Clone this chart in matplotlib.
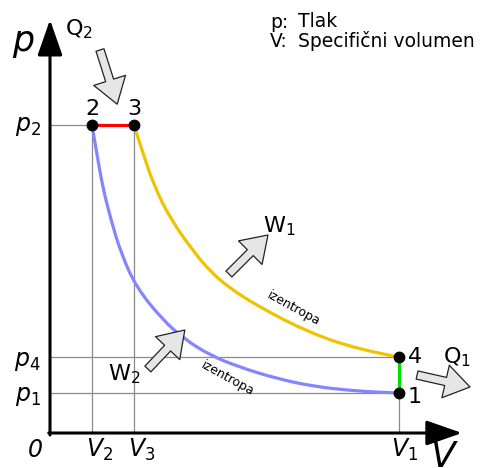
import matplotlib.pyplot as plt
from matplotlib.patches import FancyArrowPatch, ArrowStyle, PathPatch
from matplotlib.path import Path

# state points of the cycle (arbitrary units)
V2, V3, V1 = 1.0, 2.0, 8.3
p1, p4, p2 = 1.0, 1.9, 7.7

# isentropic compression 1-2 (blue)
comp_V = [1.0, 1.12, 1.255, 1.45, 1.69, 2.05, 2.68, 3.2, 3.8, 4.5, 5.4, 6.3, 7.2, 7.8, 8.3]
comp_p = [7.7, 6.95, 6.15, 5.33, 4.5, 3.65, 2.83, 2.35, 1.95, 1.65, 1.36, 1.16, 1.06, 1.02, 1.0]

# isentropic expansion 3-4 (yellow)
exp_V = [2.0, 2.21, 2.49, 2.88, 3.445, 3.81, 4.24, 4.98, 6.19, 7.38, 8.3]
exp_p = [7.7, 7.0, 6.15, 5.33, 4.5, 4.05, 3.65, 3.15, 2.5, 2.08, 1.9]

state_V = [V1, V2, V3, V1]
state_p = [p1, p2, p2, p4]

legend_keys = ['p:', 'V:']
legend_names = ['Tlak', 'Specifični volumen']


def smooth(xs, ys):
    # quadratic b-spline style path through the read points
    verts = [(xs[0], ys[0])]
    codes = [Path.MOVETO]
    n = len(xs)
    for i in range(1, n - 1):
        verts.append((xs[i], ys[i]))
        if i < n - 2:
            verts.append(((xs[i] + xs[i + 1]) / 2, (ys[i] + ys[i + 1]) / 2))
        else:
            verts.append((xs[-1], ys[-1]))
        codes += [Path.CURVE3, Path.CURVE3]
    return Path(verts, codes)


fig = plt.figure(figsize=(4.87, 4.68), dpi=100)
ax = fig.add_axes([0, 0, 1, 1])
ax.set_xlim(-50 / 42, 437 / 42)
ax.set_ylim(-35 / 40, 433 / 40)
ax.axis('off')

# thin helper lines
grey = '#8a8a8a'
ax.plot([0, V2], [p2, p2], color=grey, lw=0.9, zorder=1)
ax.plot([0, V1], [p4, p4], color=grey, lw=0.9, zorder=1)
ax.plot([0, V1], [p1, p1], color=grey, lw=0.9, zorder=1)
for v, top in [(V2, p2), (V3, p2), (V1, p4)]:
    ax.plot([v, v], [0, top], color=grey, lw=0.9, zorder=1)

# axes with arrow heads
ax.annotate('', xy=(0, 10.33), xytext=(0, -0.05),
            arrowprops=dict(arrowstyle='-|>,head_length=1.0,head_width=0.35',
                            mutation_scale=22, lw=2.2, color='black',
                            shrinkA=0, shrinkB=0), zorder=3)
ax.annotate('', xy=(9.81, 0), xytext=(-0.03, 0),
            arrowprops=dict(arrowstyle='-|>,head_length=1.0,head_width=0.35',
                            mutation_scale=22, lw=2.2, color='black',
                            shrinkA=0, shrinkB=0), zorder=3)

# cycle
ax.add_patch(PathPatch(smooth(comp_V, comp_p), fill=False, ec='#8585ff', lw=2.3, zorder=2))
ax.add_patch(PathPatch(smooth(exp_V, exp_p), fill=False, ec='#f0c300', lw=2.3, zorder=2))
ax.plot([V2, V3], [p2, p2], color='#ff0000', lw=2.3, zorder=2)
ax.plot([V1, V1], [p4, p1], color='#00e000', lw=2.3, zorder=2)
ax.plot(state_V, state_p, 'o', color='black', ms=7.5, zorder=5)

# state numbers
ax.text(V2, 7.95, '2', fontsize=16, ha='center', va='baseline')
ax.text(V3, 7.95, '3', fontsize=16, ha='center', va='baseline')
ax.text(8.52, 1.76, '4', fontsize=16, ha='left', va='baseline')
ax.text(8.52, 0.75, '1', fontsize=16, ha='left', va='baseline')

# axis labels
ax.text(-0.9, 9.55, 'p', fontsize=25, fontstyle='italic', ha='left', va='baseline')
ax.text(9.05, -0.85, 'V', fontsize=26, fontstyle='italic', ha='left', va='baseline')
ax.text(-0.36, -0.6, '0', fontsize=17, fontstyle='italic', ha='center', va='baseline')
ax.text(-0.22, 7.55, r'$p_{\mathit{2}}$', fontsize=17, ha='right', va='baseline')
ax.text(-0.22, 1.675, r'$p_{\mathit{4}}$', fontsize=17, ha='right', va='baseline')
ax.text(-0.22, 0.8, r'$p_{\mathit{1}}$', fontsize=17, ha='right', va='baseline')
ax.text(0.86, -0.6, r'$V_{\mathit{2}}$', fontsize=17, ha='left', va='baseline')
ax.text(1.86, -0.6, r'$V_{\mathit{3}}$', fontsize=17, ha='left', va='baseline')
ax.text(8.13, -0.6, r'$V_{\mathit{1}}$', fontsize=17, ha='left', va='baseline')

# legend text, two columns
ax.text(5.24, 9.65, '\n'.join(legend_keys), fontsize=13.5, linespacing=0.98,
        ha='left', va='baseline')
ax.text(5.9, 9.65, '\n'.join(legend_names), fontsize=13.5, linespacing=0.98,
        ha='left', va='baseline')

# curve names
ax.text(5.79, 3.12, 'izentropa', fontsize=9, rotation=-29, rotation_mode='anchor',
        ha='center', va='center')
ax.text(4.24, 1.35, 'izentropa', fontsize=9, rotation=-29, rotation_mode='anchor',
        ha='center', va='center')

# heat and work arrows
style = ArrowStyle.Simple(head_length=18, head_width=24, tail_width=6)
arrows = [((1.19, 9.575), (1.6, 8.22)),    # Q2
          ((4.26, 3.975), (5.19, 4.95)),   # W1
          ((2.33, 1.6), (3.21, 2.575)),    # W2
          ((8.74, 1.45), (10.0, 1.15))]    # Q1
for a, b in arrows:
    ax.add_patch(FancyArrowPatch(a, b, arrowstyle=style, mutation_scale=1,
                                 fc='#e6e6e6', ec='#222222', lw=0.9,
                                 shrinkA=0, shrinkB=0, zorder=4))

ax.text(0.36, 9.95, r'$\mathrm{Q}_2$', fontsize=16, ha='left', va='baseline')
ax.text(9.36, 1.75, r'$\mathrm{Q}_1$', fontsize=16, ha='left', va='baseline')
ax.text(5.07, 5.02, r'$\mathrm{W}_1$', fontsize=16, ha='left', va='baseline')
ax.text(1.38, 1.32, r'$\mathrm{W}_2$', fontsize=16, ha='left', va='baseline')

fig.savefig('out.png', dpi=100)
